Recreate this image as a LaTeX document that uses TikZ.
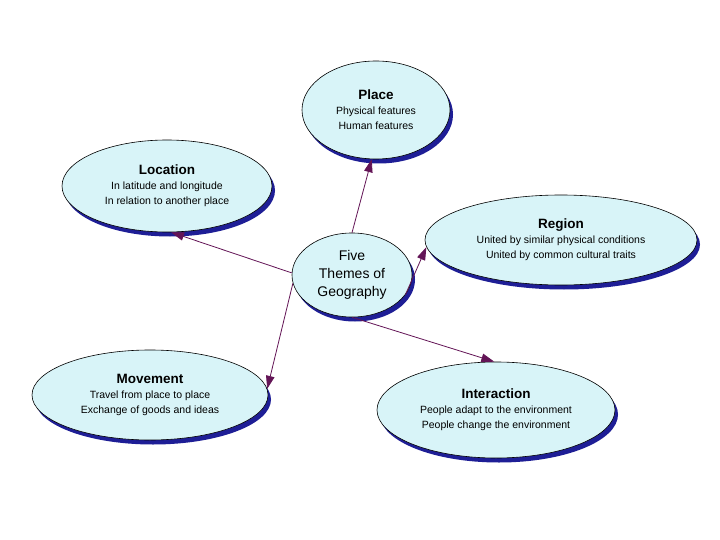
\documentclass[tikz,border=0pt]{standalone}
\usepackage{fontspec}
\setmainfont{Liberation Sans}
\usetikzlibrary{shapes.geometric,arrows.meta,shadows}
\definecolor{bubble}{HTML}{D8F4F8}
\definecolor{shade}{HTML}{1E1E96}
\definecolor{arrowc}{HTML}{631456}
\tikzset{
  theme/.style={ellipse, draw=black, line width=0.6pt, fill=bubble, inner sep=0pt,
    align=center, font=\fontsize{10.5}{15}\selectfont,
    drop shadow={shadow xshift=3pt, shadow yshift=-4.5pt, fill=shade, opacity=1}},
  conn/.style={draw=arrowc, line width=0.8pt, -{Triangle[length=13pt,width=8.5pt]}},
}
\newcommand{\ttl}[1]{{\fontsize{13.5}{16}\selectfont\bfseries #1}}
\begin{document}
\begin{tikzpicture}[x=1pt,y=-1pt]
\useasboundingbox[fill=white] (0,0) rectangle (720,540);
\node[theme, minimum width=148pt, minimum height=98pt] (place) at (376,110)
  {\ttl{Place}\\Physical features\\Human features};
\node[theme, minimum width=210pt, minimum height=92pt] (loc) at (167,186)
  {\ttl{Location}\\In latitude and longitude\\In relation to another place};
\node[theme, minimum width=272pt, minimum height=90pt] (reg) at (561,240)
  {\ttl{Region}\\United by similar physical conditions\\United by common cultural traits};
\node[theme, minimum width=120pt, minimum height=84pt, font=\fontsize{14}{18}\selectfont] (c) at (352,275)
  {Five\\Themes of\\Geography};
\node[theme, minimum width=236pt, minimum height=90pt] (mov) at (150,395)
  {\ttl{Movement}\\Travel from place to place\\Exchange of goods and ideas};
\node[theme, minimum width=238pt, minimum height=96pt] (int) at (496,410)
  {\ttl{Interaction}\\People adapt to the environment\\People change the environment};
\draw[conn] (c.north) -- (place.265);
\draw[conn] (c.178) -- (loc.-85);
\draw[conn] (c.-20) -- (reg.183);
\draw[conn] (c.188) -- (mov.3);
\draw[conn] (c.south) -- (int.92);
\end{tikzpicture}
\end{document}
